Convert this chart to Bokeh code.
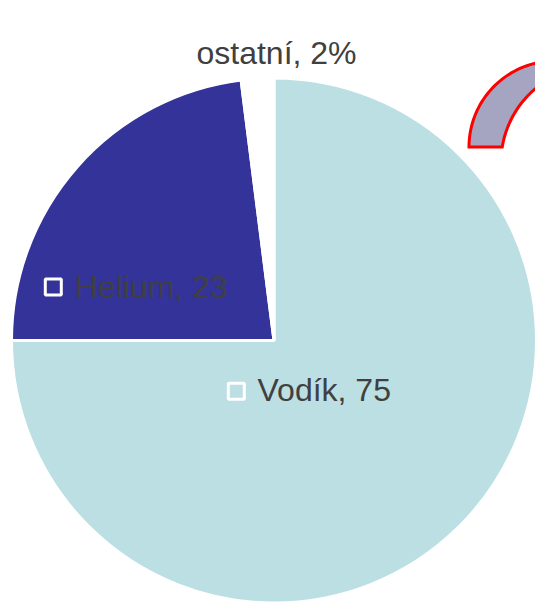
import numpy as np
from bokeh.plotting import figure
from bokeh.models import Range1d, ColumnDataSource
from bokeh.embed import file_html
from bokeh.resources import INLINE
from bokeh.core.properties import value

# ---- data ----
categories = ["Vodík", "Helium", "ostatní"]
values = [75, 23, 2]
label_texts = ["Vodík, 75", "Helium, 23", "ostatní, 2%"]
slice_colors = ["#BBDFE3", "#333399", "#FFFFFF"]

# ---- layout ----
W, H = 535, 603


def Y(sy):
    return H - sy


p = figure(width=W, height=H, x_range=Range1d(0, W), y_range=Range1d(0, H),
           output_backend="svg", toolbar_location=None, min_border=0)
p.axis.visible = False
p.grid.visible = False
p.outline_line_color = None
p.background_fill_color = "white"
p.border_fill_color = "white"

# pie
cx, cy, R = 273.5, Y(340), 262.5
frac = np.array(values, dtype=float) / sum(values)
cum = np.concatenate([[0.0], np.cumsum(frac)])
start = np.pi / 2 - cum[1:] * 2 * np.pi
end = np.pi / 2 - cum[:-1] * 2 * np.pi
src = ColumnDataSource(dict(start=start, end=end, color=slice_colors, cat=categories))
p.wedge(x=cx, y=cy, radius=R, start_angle="start", end_angle="end",
        fill_color="color", line_color="white", line_width=3, source=src)

# decorative curved band (top right)
ho, ko, Ro = 554.5, 146.5, 86.0
hi, ki, Ri = 597.0, 162.0, 96.5
t_out = np.radians(np.linspace(180, 45, 60))
t_in_end = np.degrees(np.pi - np.arcsin((ki - ko) / Ri))
t_in = np.radians(np.linspace(45, t_in_end, 60))
xs = list(ho + Ro * np.cos(t_out)) + list(hi + Ri * np.cos(t_in))
ys = [Y(v) for v in (list(ko - Ro * np.sin(t_out)) + list(ki - Ri * np.sin(t_in)))]
p.patch(xs, ys, fill_color="#A5A5C1", line_color="#FF0000", line_width=3, line_join="miter")

# labels
FONT = value("Liberation Sans")
TXT = "#404040"
# Vodík
p.scatter([235.8], [Y(390.8)], marker="square", size=16, fill_color=slice_colors[0],
          line_color="white", line_width=3)
p.text([257], [Y(389)], text=[label_texts[0]], text_font=FONT, text_font_size="32px",
       text_color=TXT, text_align="left", text_baseline="alphabetic")
# Helium
p.scatter([52.8], [Y(286.5)], marker="square", size=16, fill_color=slice_colors[1],
          line_color="white", line_width=3)
p.text([74], [Y(286)], text=[label_texts[1]], text_font=FONT, text_font_size="32px",
       text_color=TXT, text_align="left", text_baseline="alphabetic")
# ostatní
p.text([276], [Y(52)], text=[label_texts[2]], text_font=FONT, text_font_size="32px",
       text_color=TXT, text_align="center", text_baseline="alphabetic")

open("out.html", "w").write(file_html(p, INLINE))
